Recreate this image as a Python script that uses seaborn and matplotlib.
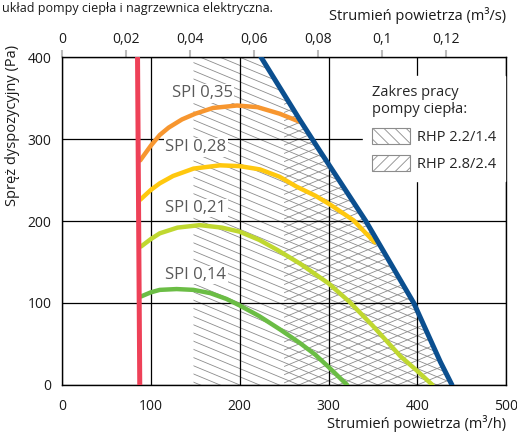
import numpy as np
import matplotlib
matplotlib.use('Agg')
import matplotlib.pyplot as plt
from matplotlib.patches import Polygon, Patch
import seaborn as sns

# Values: flow in m3/h, pressure in Pa
red_q = [85, 87.5]
red_p = [400, 0]
blue_q = [224, 268, 290, 313, 342, 396, 426, 439]
blue_p = [400, 323, 286, 248, 200, 100, 28, 0]

spi35_q = [88, 100, 110, 120, 135, 150, 170, 197, 220, 245, 268]
spi35_p = [274, 292, 305, 314, 324, 331, 338, 341, 339, 331, 321]
spi28_q = [88, 100, 110, 125, 148, 178, 200, 223, 245, 264, 285, 302, 328, 352]
spi28_p = [226, 238, 246, 255, 264, 268, 267, 263, 254, 242, 231, 220, 201, 174]
spi21_q = [89, 100, 110, 130, 155, 180, 200, 222, 242, 268, 300, 324, 350,
           381, 400, 417]
spi21_p = [169, 178, 185, 192, 195, 192, 187, 177, 165, 148, 124, 101, 72,
           35, 17, 0]
spi14_q = [89, 100, 110, 129, 148, 167, 185, 200, 222, 245, 268, 285, 300, 321]
spi14_p = [108, 113, 116, 117, 116, 112, 105, 97, 84, 68, 51, 37, 22, 0]

spi_labels = ['SPI 0,35', 'SPI 0,28', 'SPI 0,21', 'SPI 0,14']
rhp_labels = ['RHP 2.2/1.4', 'RHP 2.8/2.4']
rhp_left = [148, 250]   # left edge of the heat pump range (m3/h)

top_ticks = [0, 0.02, 0.04, 0.06, 0.08, 0.1, 0.12]

sns.set_style('white')
plt.rcParams['font.family'] = ['Open Sans', 'DejaVu Sans']
plt.rcParams['hatch.linewidth'] = 0.6

fig = plt.figure(figsize=(5.17, 4.33), dpi=100)
ax = fig.add_axes([0.120, 0.111, 0.859, 0.757])


def hatch_region(left, slope, step):
    # area between left edge and the max curve, filled with thin gray lines
    top = np.interp(left, blue_q, blue_p)
    verts = [(left, 0), (left, top)]
    verts += [(q, p) for q, p in zip(blue_q, blue_p) if q > left]
    poly = Polygon(verts, closed=True, fc='none', ec='none')
    ax.add_patch(poly)
    xs = np.array([0, 500])
    for c in np.arange(-400, 800, step):
        ln, = ax.plot(xs, c + slope * xs, color='#8c8c8c', lw=0.6, zorder=1)
        ln.set_clip_path(poly)


hatch_region(rhp_left[0], -0.45, 10)
hatch_region(rhp_left[1], 0.45, 10)

curves = [(spi35_q, spi35_p, '#F7962F'), (spi28_q, spi28_p, '#FFC80E'),
          (spi21_q, spi21_p, '#C0D830'), (spi14_q, spi14_p, '#6BBD45')]
for q, p, col in curves:
    sns.lineplot(x=q, y=p, color=col, lw=3.2, estimator=None, sort=False,
                 ax=ax, zorder=4)

sns.lineplot(x=red_q, y=red_p, color='#EE4158', lw=3.6, estimator=None,
             sort=False, ax=ax, zorder=5)
sns.lineplot(x=blue_q, y=blue_p, color='#0B4F8F', lw=3.6, estimator=None,
             sort=False, ax=ax, zorder=5)
for ln in ax.get_lines():
    ln.set_solid_joinstyle('round')

# SPI labels
label_pos = [(192, 356), (185, 290), (185, 216), (185, 134)]
for txt, (x, y) in zip(spi_labels, label_pos):
    ax.text(x, y, txt, ha='right', va='center', fontsize=12, color='#595959',
            zorder=6, bbox=dict(facecolor='white', edgecolor='none', pad=1))

ax.set_xlim(0, 500)
ax.set_ylim(0, 400)
ax.set_xticks([0, 100, 200, 300, 400, 500])
ax.set_yticks([0, 100, 200, 300, 400])
ax.grid(True, color='black', lw=0.9)
ax.set_axisbelow(False)
for ln in ax.get_xgridlines() + ax.get_ygridlines():
    ln.set_zorder(2)
for s in ax.spines.values():
    s.set_color('black')
    s.set_linewidth(1)
    s.set_zorder(3)
ax.tick_params(axis='both', direction='inout', length=8, width=1,
               color='black', labelsize=10, labelcolor='#1a1a1a')
ax.tick_params(axis='x', pad=6)

ax.set_xlabel('Strumień powietrza (m³/h)', loc='right', fontsize=10.5,
              color='#1a1a1a', labelpad=1)
ax.set_ylabel('Spręż dyspozycyjny (Pa)', loc='top', fontsize=10.5,
              color='#1a1a1a')
ax.yaxis.set_label_coords(-0.094, 1.037)

top = ax.secondary_xaxis('top', functions=(lambda x: x / 3600,
                                           lambda x: x * 3600))
top.set_xticks(top_ticks)
top.set_xticklabels([f'{t:g}'.replace('.', ',') for t in top_ticks])
top.tick_params(direction='out', length=5, width=1.5, color='#bbbbbb',
                labelsize=10, labelcolor='#1a1a1a', pad=2)
top.spines['top'].set_visible(False)
top.set_xlabel('Strumień powietrza (m³/s)', loc='right', fontsize=10.5,
               color='#1a1a1a', labelpad=9)

handles = [Patch(facecolor='white', edgecolor='#8c8c8c', hatch='\\\\\\', lw=0.8),
           Patch(facecolor='white', edgecolor='#8c8c8c', hatch='///', lw=0.8)]
leg = ax.legend(handles, rhp_labels, title='Zakres pracy\npompy ciepła:',
                loc='upper left', bbox_to_anchor=(0.662, 0.965),
                fontsize=10.5, title_fontsize=10.5, alignment='left',
                handlelength=2.6, handleheight=1.3, labelspacing=0.7,
                handletextpad=0.5, frameon=True, fancybox=False,
                borderpad=0.6, facecolor='white', edgecolor='white',
                framealpha=1)
leg.set_zorder(10)
leg._legend_box.sep = 8

fig.text(0.004, 0.995, 'układ pompy ciepła i nagrzewnica elektryczna.',
         ha='left', va='top', fontsize=9, color='#1a1a1a')

fig.savefig('out.png', dpi=100)
